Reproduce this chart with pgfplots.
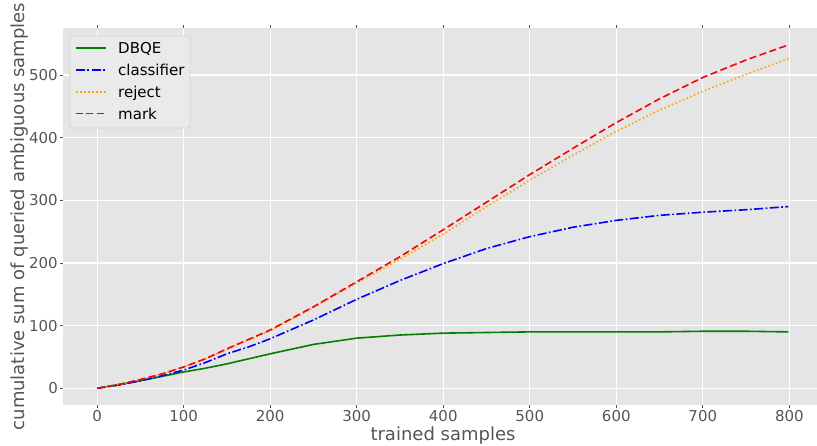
\documentclass[border=0pt]{standalone}
\usepackage{fontspec}
\setmainfont{DejaVu Sans}
\usepackage{pgfplots}
\pgfplotsset{compat=1.18}
\definecolor{bg}{HTML}{E5E5E5}
\definecolor{tickgray}{HTML}{555555}
\definecolor{lgfill}{HTML}{EAEAEA}
\definecolor{lgdraw}{HTML}{D4D4D4}
\definecolor{mpgreen}{RGB}{0,128,0}
\definecolor{mpblue}{RGB}{0,0,255}
\definecolor{mporange}{HTML}{FFA500}
\definecolor{mpred}{RGB}{255,0,0}
\pgfplotsset{
  sDBQE/.style={draw=mpgreen, line width=1.6pt},
  sCls/.style={draw=mpblue, line width=1.6pt, dash pattern=on 9pt off 2.5pt on 1.6pt off 2.5pt},
  sRej/.style={draw=mporange, line width=1.6pt, dash pattern=on 1.6pt off 2.4pt},
  sMark/.style={draw=mpred, line width=1.6pt, dash pattern=on 7pt off 3.5pt},
}
\begin{document}
\begin{tikzpicture}
\useasboundingbox (-63pt,-40pt) rectangle (754pt,405pt);
\begin{axis}[
  scale only axis, width=754pt, height=377pt,
  at={(0,0)}, anchor=south west,
  xmin=-39.5, xmax=832, ymin=-26.7, ymax=575,
  axis background/.style={fill=bg},
  axis line style={draw=none},
  grid=major, grid style={white, line width=1.2pt},
  xtick={0,100,...,800}, ytick={0,100,...,500},
  tick style={tickgray, line width=0.8pt}, major tick length=3pt, tick align=outside,
  ticklabel style={font=\fontsize{15}{18}\selectfont, text=tickgray},
  xticklabel style={inner sep=0pt, yshift=-2pt},
  yticklabel style={inner sep=0pt, xshift=-2pt},
  /pgf/number format/assume math mode=true,
  xlabel={trained samples},
  ylabel={cumulative sum of queried ambiguous samples},
  label style={font=\fontsize{18}{22}\selectfont, text=tickgray},
  xlabel style={at={(axis description cs:0.504,-0.0584)}, anchor=north, inner sep=0pt},
  ylabel style={at={(axis description cs:-0.0517,0.5)}, anchor=base, inner sep=0pt},
]
\addplot[sDBQE] coordinates {
(0,0) (25,6) (50,12) (75,19) (100,26) (125,32) (150,39) (175,47) (200,55) (250,70) (300,80) (350,85) (400,88) (450,89) (500,90) (550,90) (600,90) (650,90) (700,91) (750,91) (799,90)};
\addplot[sCls] coordinates {
(0,0) (25,5) (50,12) (75,20) (100,29) (125,41) (150,55) (175,66) (200,79) (250,109) (300,142) (350,172) (400,199) (450,223) (500,242) (550,257) (600,268) (650,276) (700,281) (750,285) (799,290)};
\addplot[sRej] coordinates {
(0,0) (25,6) (50,14) (75,23) (100,34) (125,47) (150,62) (175,77) (200,92) (250,129) (300,168) (350,206) (400,246) (450,290) (500,332) (550,372) (600,410) (650,444) (700,474) (750,501) (799,526)};
\addplot[sMark] coordinates {
(0,0) (25,6) (50,14) (75,23) (100,34) (125,47) (150,63) (175,78) (200,93) (250,130) (300,170) (350,210) (400,253) (450,297) (500,341) (550,383) (600,424) (650,462) (700,496) (750,524) (799,548)};
\end{axis}
% legend drawn as a small pgfplots axis
\begin{axis}[
  scale only axis, width=120pt, height=92pt,
  at={(7pt,277pt)}, anchor=south west,
  xmin=0, xmax=120, ymin=0, ymax=92,
  axis background/.style={fill=lgfill, draw=lgdraw, line width=0.8pt, rounded corners=3pt},
  axis line style={draw=none}, ticks=none,
  clip=false,
]
\addplot[sDBQE] coordinates {(6,80) (36,80)};
\addplot[sCls] coordinates {(6,58) (36,58)};
\addplot[sRej] coordinates {(6,36) (36,36)};
\addplot[sMark] coordinates {(6,14.3) (36,14.3)};
\node[anchor=base west, inner sep=0pt, font=\fontsize{15}{18}\selectfont] at (axis cs:48,74.6) {DBQE};
\node[anchor=base west, inner sep=0pt, font=\fontsize{15}{18}\selectfont] at (axis cs:48,52.6) {classifier};
\node[anchor=base west, inner sep=0pt, font=\fontsize{15}{18}\selectfont] at (axis cs:48,30.6) {reject};
\node[anchor=base west, inner sep=0pt, font=\fontsize{15}{18}\selectfont] at (axis cs:48,8.9) {mark};
\end{axis}
\end{tikzpicture}
\end{document}
